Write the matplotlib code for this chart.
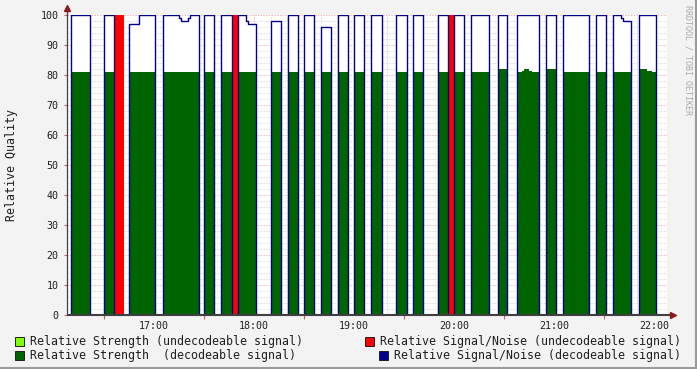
import matplotlib
matplotlib.use("Agg")
import matplotlib.pyplot as plt
from matplotlib.lines import Line2D
from matplotlib.patches import Rectangle
import numpy as np

# time axis in minutes since 16:00
edges = [10.2, 21.6, 30.0, 36.0, 42.0, 45.0, 51.0, 60.6, 65.4, 75.0, 76.2, 80.4,
         81.6, 87.0, 90.0, 96.0, 100.2, 106.6, 110.6, 115.4, 116.6, 121.4, 130.2,
         136.4, 140.6, 146.6, 150.2, 156.2, 160.4, 166.4, 170.6, 176.6, 180.2,
         186.2, 190.2, 196.6, 205.4, 211.6, 215.6, 221.6, 230.6, 236.6, 240.2,
         246.2, 250.4, 261.2, 266.6, 271.6, 277.6, 280.8, 282.2, 285.2, 286.6,
         290.8, 295.4, 301.4, 305.6, 321.0, 325.4, 331.4, 335.6, 340.2, 341.6,
         346.4, 350.8, 355.6, 358.6, 361.4]

# relative signal/noise, decodeable signal (one value per interval)
snr = [100, 0, 100, 0, 0, 97, 100, 0, 100, 99, 98, 99, 100, 0, 100, 0, 100, 0,
       100, 98, 97, 0, 98, 0, 100, 0, 100, 0, 96, 0, 100, 0, 100, 0, 100, 0,
       100, 0, 100, 0, 100, 0, 100, 0, 100, 0, 100, 0, 100, 100, 100, 100, 100,
       0, 100, 0, 100, 0, 100, 0, 100, 99, 98, 0, 100, 100, 100]

# relative strength, decodeable signal
strength = [81, 0, 81, 0, 0, 81, 81, 0, 81, 81, 81, 81, 81, 0, 81, 0, 81, 0,
            81, 81, 81, 0, 81, 0, 81, 0, 81, 0, 81, 0, 81, 0, 81, 0, 81, 0,
            81, 0, 81, 0, 81, 0, 81, 0, 81, 0, 82, 0, 81, 81.5, 82, 81.5, 81,
            0, 82, 0, 81, 0, 81, 0, 81, 81, 81, 0, 82, 81.5, 81]

# relative signal/noise, undecodeable signal
bad_start = [36.0, 106.6, 236.6]
bad_end = [42.0, 110.6, 240.2]
bad_snr = [100, 100, 100]

hour_pos = [60, 120, 180, 240, 300, 360]
hour_labels = ["17:00", "18:00", "19:00", "20:00", "21:00", "22:00"]

W, H = 697, 369
x0, x1 = 7.8, 367.8
mono = "DejaVu Sans Mono"

fig = plt.figure(figsize=(W / 100, H / 100), dpi=100, facecolor="#f3f3f3")
ax = fig.add_axes([67 / W, 54 / H, 600 / W, 300 / H], facecolor="white")
ax.set_xlim(x0, x1)
ax.set_ylim(0, 100)

# grid
for y in np.arange(2, 101, 2):
    major = y % 10 == 0
    ax.axhline(y, color="#f0b4b4" if major else "#d8d8d8", lw=0.7,
               ls=(0, (1.4, 1.4)), zorder=1)
for x in np.arange(10, 368, 10):
    major = x % 30 == 0
    ax.axvline(x, color="#f0b4b4" if major else "#d8d8d8", lw=0.7,
               ls=(0, (1.4, 1.4)), zorder=1)

ax.fill_between(edges, snr + [snr[-1]], step="post", color="white", lw=0, zorder=2)
ax.fill_between(edges, strength + [strength[-1]], step="post", color="#006400",
                lw=0, zorder=3)
ax.bar(bad_start, bad_snr, width=np.array(bad_end) - np.array(bad_start),
       align="edge", color="#ff0000", lw=0, zorder=4)
ax.step([x0] + edges, [0] + snr + [0], where="post", color="#00008b", lw=1.0,
        zorder=5)

for s in ["top", "right", "bottom"]:
    ax.spines[s].set_visible(False)
ax.spines["left"].set_color("#404040")
ax.spines["left"].set_linewidth(0.9)
ax.spines["left"].set_zorder(7)

# axis lines and arrows
ax.plot([0, 1.01], [0, 0], transform=ax.transAxes, color="#404040", lw=1.5,
        clip_on=False, zorder=7, solid_capstyle="butt")
ax.plot([0, 0], [1, 1.025], transform=ax.transAxes, color="#404040", lw=0.9,
        clip_on=False)
ax.plot(0, 1.025, marker="^", ms=4, color="#8b1a1a", transform=ax.transAxes,
        clip_on=False)
ax.plot(1.01, 0, marker=">", ms=4, color="#8b1a1a", transform=ax.transAxes,
        clip_on=False, zorder=8)

ax.set_xticks(hour_pos, hour_labels, fontsize=7.2, family=mono, color="#202020")
ax.set_xticks(np.arange(30, 368, 30), minor=True)
ax.tick_params(axis="x", which="major", length=0, pad=4)
ax.tick_params(axis="x", which="minor", length=3, color="#d06060", width=0.8)
ax.set_yticks(np.arange(0, 101, 10))
ax.set_yticklabels([str(v) for v in range(0, 101, 10)], fontsize=7.2, family=mono,
                   color="#202020")
ax.tick_params(axis="y", length=2, color="#d06060", width=0.8, pad=4)

fig.text(12 / W, 1 - 165 / H, "Relative Quality", rotation=90, family=mono,
         fontsize=8.4, ha="center", va="center", color="#202020")
fig.text(688 / W, 1 - 60 / H, "RRDTOOL / TOBI OETIKER", rotation=270, family=mono,
         fontsize=6, ha="center", va="center", color="#aaaaaa")

# legend
legend = [(15, 341, "#7fff00", "Relative Strength (undecodeable signal)"),
          (15, 355, "#006400", "Relative Strength  (decodeable signal)"),
          (365, 341, "#ff0000", "Relative Signal/Noise (undecodeable signal)"),
          (379, 355, "#00008b", "Relative Signal/Noise (decodeable signal)")]
for lx, ly, col, txt in legend:
    fig.add_artist(Rectangle((lx / W, 1 - (ly + 4.5) / H), 9 / W, 9 / H,
                             facecolor=col, edgecolor="#202020", lw=0.7,
                             transform=fig.transFigure))
    fig.text((lx + 15) / W, 1 - ly / H, txt, family=mono, fontsize=8.4,
             ha="left", va="center", color="#202020")

# frame
fig.add_artist(Line2D([0, 1], [1.5 / H, 1.5 / H], color="#9a9a9a", lw=1.5,
                      transform=fig.transFigure))
fig.add_artist(Line2D([1 - 1.5 / W, 1 - 1.5 / W], [0, 1], color="#9a9a9a", lw=1.5,
                      transform=fig.transFigure))

fig.savefig("out.png", dpi=100, facecolor=fig.get_facecolor())
